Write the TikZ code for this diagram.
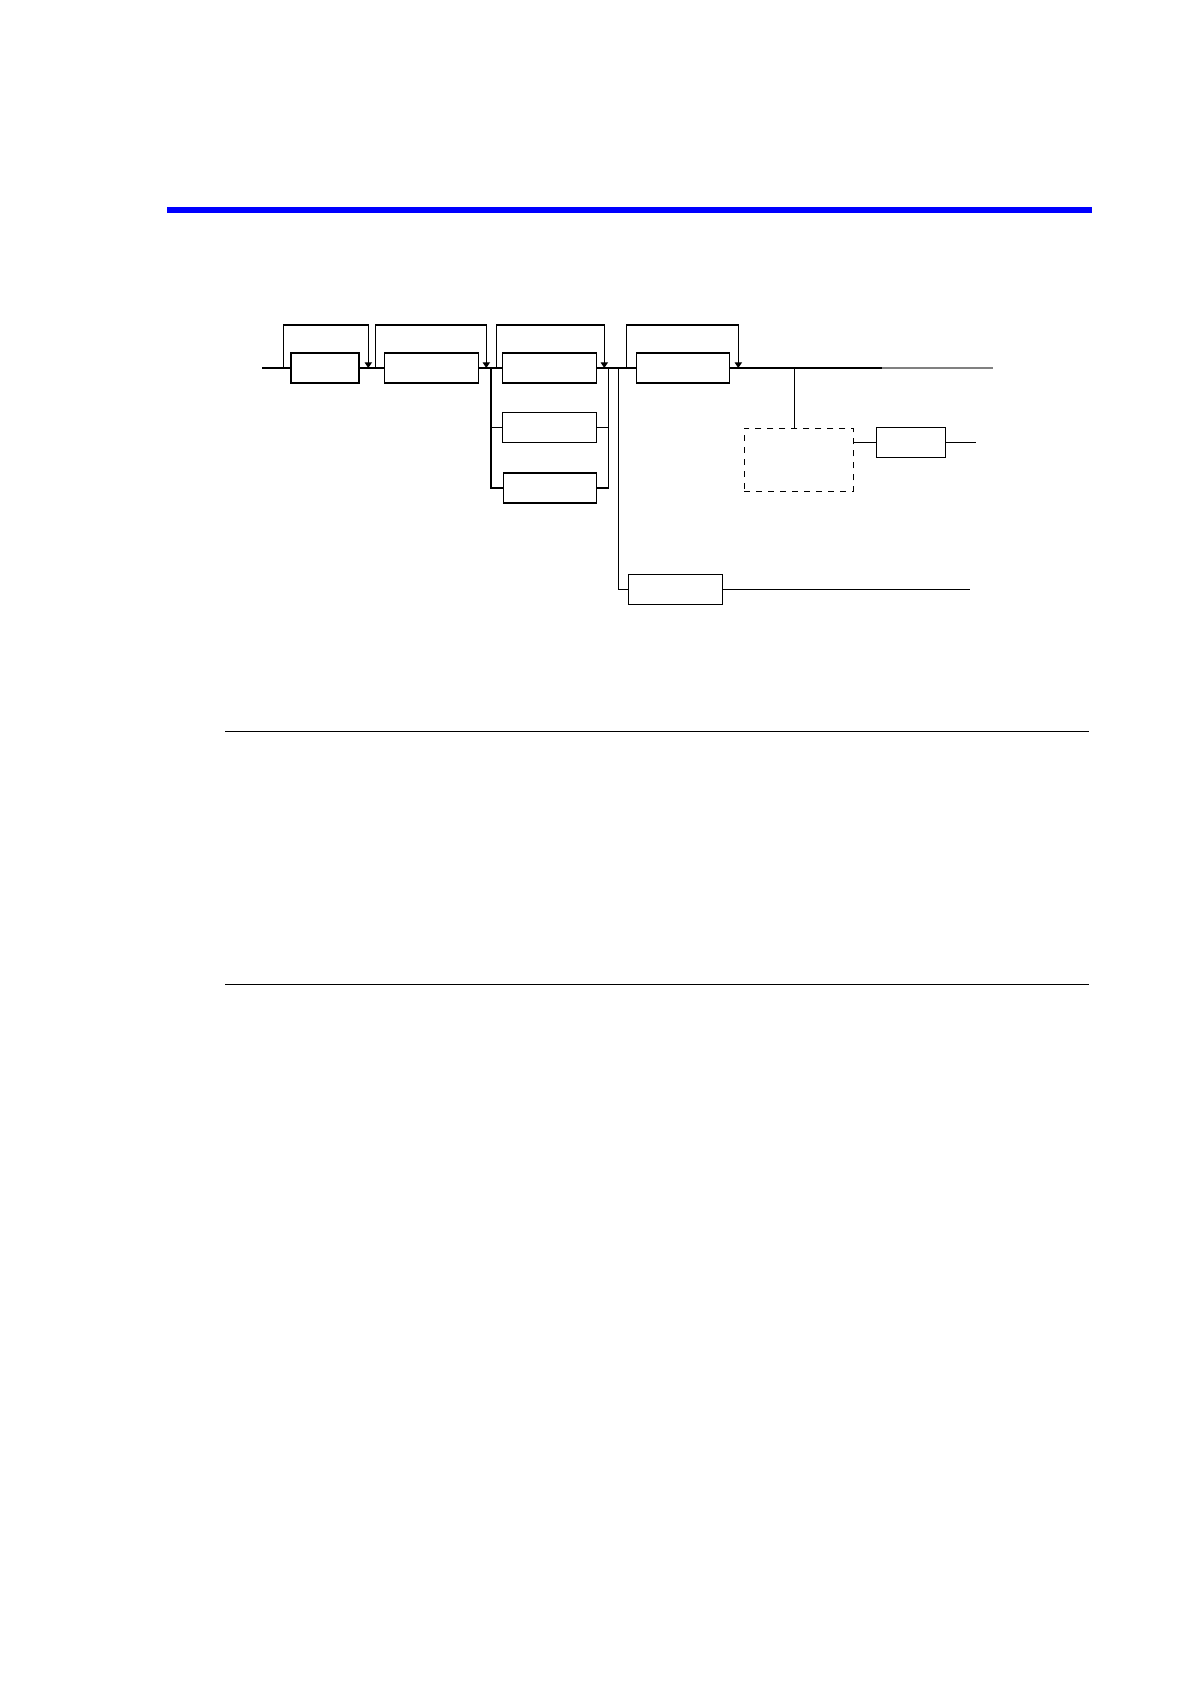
\documentclass[tikz,border=0pt]{standalone}
\usepackage{tikz}
\usetikzlibrary{arrows.meta,positioning}

\begin{document}
\begin{tikzpicture}[x=0.5pt,y=-0.5pt,line width=0.6pt,
    blk/.style={draw, minimum width=#1, minimum height=15pt, inner sep=0pt},
    dashblk/.style={draw, dashed, minimum width=54.5pt, minimum height=31.5pt, inner sep=0pt},
    bypass/.style={-{Triangle[length=2.8pt,width=3.6pt]}}]
      \useasboundingbox (0,0) rectangle (1190,1684);
      % Blue header bar and page rules
      \fill[blue] (167,206.7) rectangle (1092,212.7);
      \draw (225,731.3) -- (1089,731.3);
      \draw (225,984.3) -- (1089,984.3);
      % Blocks
      \node[blk=34pt]   (A) at (325,368) {};
      \node[blk=47.2pt] (B) at (431.5,368) {};
      \node[blk=47.2pt] (C) at (549.5,368) {};
      \node[blk=47.2pt] (D) at (549.5,427.3) {};
      \node[blk=46.7pt] (E) at (550,488) {};
      \node[blk=46.5pt] (G) at (682.8,368) {};
      \node[blk=47.2pt] (F) at (675.5,589.3) {};
      \node[dashblk]    (X) at (798.8,459.8) {};
      \node[blk=34.5pt] (H) at (910.8,442.3) {};
      % Taps on the main line
      \coordinate (in)  at (262,368);
      \coordinate (out) at (882,368);
      \coordinate (end) at (993,368);
      \coordinate (s1)  at (491,368);
      \coordinate (s2)  at (608.3,368);
      \coordinate (s3)  at (618.3,368);
      \coordinate (s4)  at (794.3,368);
      \coordinate (fo)  at (970,589.3);
      \coordinate (ho)  at (976,442.3);
      % Main line
      \draw (in) -- (A.west);
      \draw (A.east) -- (B.west);
      \draw (B.east) -- (C.west);
      \draw (C.east) -- (G.west);
      \draw (G.east) -- (out);
      \draw[gray] (out) -- (end);
      % Bypass loops over each block
      \draw[bypass] (283.3,368) -- ++(0,-43) -| (368.3,368);
      \draw[bypass] (375.3,368) -- ++(0,-43) -| (486.3,368);
      \draw[bypass] (496.3,368) -- ++(0,-43) -| (604.3,368);
      \draw[bypass] (626.3,368) -- ++(0,-43) -| (738.3,368);
      % Parallel branch
      \draw (s1) |- (E.west);
      \draw (s1 |- D.west) -- (D.west);
      \draw (E.east) -| (s2);
      \draw (D.east) -- (D.east -| s2);
      % Lower output
      \draw (s3) |- (F.west);
      \draw (F.east) -- (fo);
      % Side output
      \draw (s4) -- (s4 |- X.north);
      \draw (X.east |- H.west) -- (H.west);
      \draw (H.east) -- (ho);
\end{tikzpicture}
\end{document}
